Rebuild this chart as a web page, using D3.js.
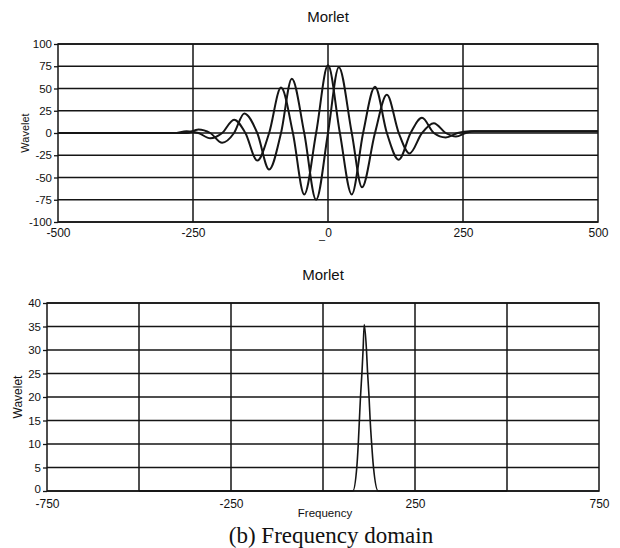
<!DOCTYPE html>
<html>
<head>
<meta charset="utf-8">
<script src="https://cdn.jsdelivr.net/npm/d3@7"></script>
<style>
  body { margin: 0; background: #fff; }
  svg text { font-family: "Liberation Sans", Arial, sans-serif; fill: #111; }
</style>
</head>
<body>
<svg id="chart" width="620" height="548"></svg>
<script>
// time domain (top panel)
const timeTicks = [-500, -250, 0, 250, 500];
const waveTicks = [-100, -75, -50, -25, 0, 25, 50, 75, 100];
const realT = [-500, -285, -262, -240, -218, -196, -174, -153, -131, -109, -87, -65, -44, -22, 0, 22, 44, 65, 87, 109, 131, 153, 174, 196, 218, 240, 262, 500];
const realV = [0, 0, 2, 0, -6, 0, 15, 0, -31, 0, 51, 0, -69, 0, 76, 0, -69, 0, 52, 0, -30, 0, 17, 0, -5, 0, 2, 2];
const imagT = [-500, -280, -262, -240, -218, -196, -174, -155, -131, -109, -87, -67, -44, -22, 0, 20, 44, 63, 87, 109, 131, 151, 174, 196, 218, 237, 255, 270, 500];
const imagV = [0, 0, 0, 4, 0, -11, 0, 22, 0, -41, 0, 61, 0, -75, 0, 74, 0, -61, 0, 43, 0, -23, 0, 11, 0, -4, 0, 2, 2];

// frequency domain (bottom panel)
const freqTicks = [-750, -500, -250, 0, 250, 500, 750];
const freqLabels = [-750, -250, 250, 750];
const ampTicks = [0, 5, 10, 15, 20, 25, 30, 35, 40];
const freqX = [-500, 81, 92, 96, 99, 102, 106, 109, 112, 118, 121, 125, 128, 132, 137, 150, 500];
const freqY = [0, 0, 5.2, 10.3, 15.3, 20.2, 25.4, 30.2, 35.4, 30.2, 25.4, 20.2, 15.3, 10.3, 5.2, 0, 0];

const svg = d3.select('#chart');
const ink = '#151515';

function panel(box, xDomain, yDomain, xGrid, xLabels, yTicks) {
  const x = d3.scaleLinear().domain(xDomain).range([box.left, box.right]);
  const y = d3.scaleLinear().domain(yDomain).range([box.bottom, box.top]);
  const g = svg.append('g');

  // horizontal grid
  g.append('g').selectAll('line')
    .data(yTicks)
    .enter().append('line')
    .attr('x1', box.left).attr('x2', box.right)
    .attr('y1', d => y(d)).attr('y2', d => y(d))
    .attr('stroke', ink).attr('stroke-width', 1.4);

  // vertical grid
  g.append('g').selectAll('line')
    .data(xGrid)
    .enter().append('line')
    .attr('x1', d => x(d)).attr('x2', d => x(d))
    .attr('y1', box.top).attr('y2', box.bottom)
    .attr('stroke', ink).attr('stroke-width', 1.5);

  g.append('rect')
    .attr('x', box.left).attr('y', box.top)
    .attr('width', box.right - box.left).attr('height', box.bottom - box.top)
    .attr('fill', 'none').attr('stroke', ink).attr('stroke-width', 1.5);

  const yAxis = g.append('g')
    .attr('transform', `translate(${box.left},0)`)
    .call(d3.axisLeft(y).tickValues(yTicks).tickSize(4).tickPadding(2).tickFormat(d => String(d)));
  yAxis.select('.domain').remove();
  yAxis.selectAll('line').attr('stroke', ink).attr('stroke-width', 1.3);
  yAxis.selectAll('text').style('font-size', box.tickFont + 'px').attr('fill', ink);

  const xAxis = g.append('g')
    .attr('transform', `translate(0,${box.bottom})`)
    .call(d3.axisBottom(x).tickValues(xLabels).tickSize(0).tickPadding(box.xPad).tickFormat(d => String(d)));
  xAxis.select('.domain').remove();
  xAxis.selectAll('text').style('font-size', '12px').attr('fill', ink);

  return {x, y, g, yAxis};
}

// top panel
const timePanel = panel({left: 58, right: 598, top: 44, bottom: 222, tickFont: 11.5, xPad: 6},
  [-500, 500], [-100, 100], [-250, 0, 250], timeTicks, waveTicks);

const tLine = d3.line()
  .x(d => timePanel.x(d[0]))
  .y(d => timePanel.y(d[1]))
  .curve(d3.curveMonotoneX);

timePanel.g.append('path')
  .datum(d3.zip(realT, realV))
  .attr('d', tLine)
  .attr('fill', 'none').attr('stroke', ink).attr('stroke-width', 2);

timePanel.g.append('path')
  .datum(d3.zip(imagT, imagV))
  .attr('d', tLine)
  .attr('fill', 'none').attr('stroke', ink).attr('stroke-width', 2);

svg.append('text').attr('x', 328).attr('y', 22)
  .attr('text-anchor', 'middle').style('font-size', '15px').text('Morlet');
svg.append('text').attr('transform', 'translate(29,133) rotate(-90)')
  .attr('text-anchor', 'middle').style('font-size', '11px').text('Wavelet');
svg.append('text').attr('x', 322).attr('y', 243)
  .attr('text-anchor', 'middle').style('font-size', '11px').text('–');

// bottom panel
const freqPanel = panel({left: 47, right: 599, top: 303, bottom: 491, tickFont: 11.5, xPad: 8},
  [-750, 750], [0, 40], freqTicks.slice(1, -1), freqLabels, ampTicks);

// the "0" label sits a touch higher so it clears "-750"
freqPanel.yAxis.selectAll('.tick').filter(d => d === 0)
  .select('text').attr('dy', '0.1em');

const fLine = d3.line()
  .x(d => freqPanel.x(d[0]))
  .y(d => freqPanel.y(d[1]))
  .curve(d3.curveMonotoneX);

freqPanel.g.append('path')
  .datum(d3.zip(freqX, freqY))
  .attr('d', fLine)
  .attr('fill', 'none').attr('stroke', ink).attr('stroke-width', 1.6);

svg.append('text').attr('x', 323).attr('y', 280)
  .attr('text-anchor', 'middle').style('font-size', '15px').text('Morlet');
svg.append('text').attr('transform', 'translate(22,397) rotate(-90)')
  .attr('text-anchor', 'middle').style('font-size', '12px').text('Wavelet');
svg.append('text').attr('x', 325).attr('y', 517)
  .attr('text-anchor', 'middle').style('font-size', '11.5px').text('Frequency');
svg.append('text').attr('x', 331).attr('y', 543)
  .attr('text-anchor', 'middle')
  .style('font-family', '"Liberation Serif", "Times New Roman", serif')
  .style('font-size', '23px').text('(b) Frequency domain');
</script>
</body>
</html>
